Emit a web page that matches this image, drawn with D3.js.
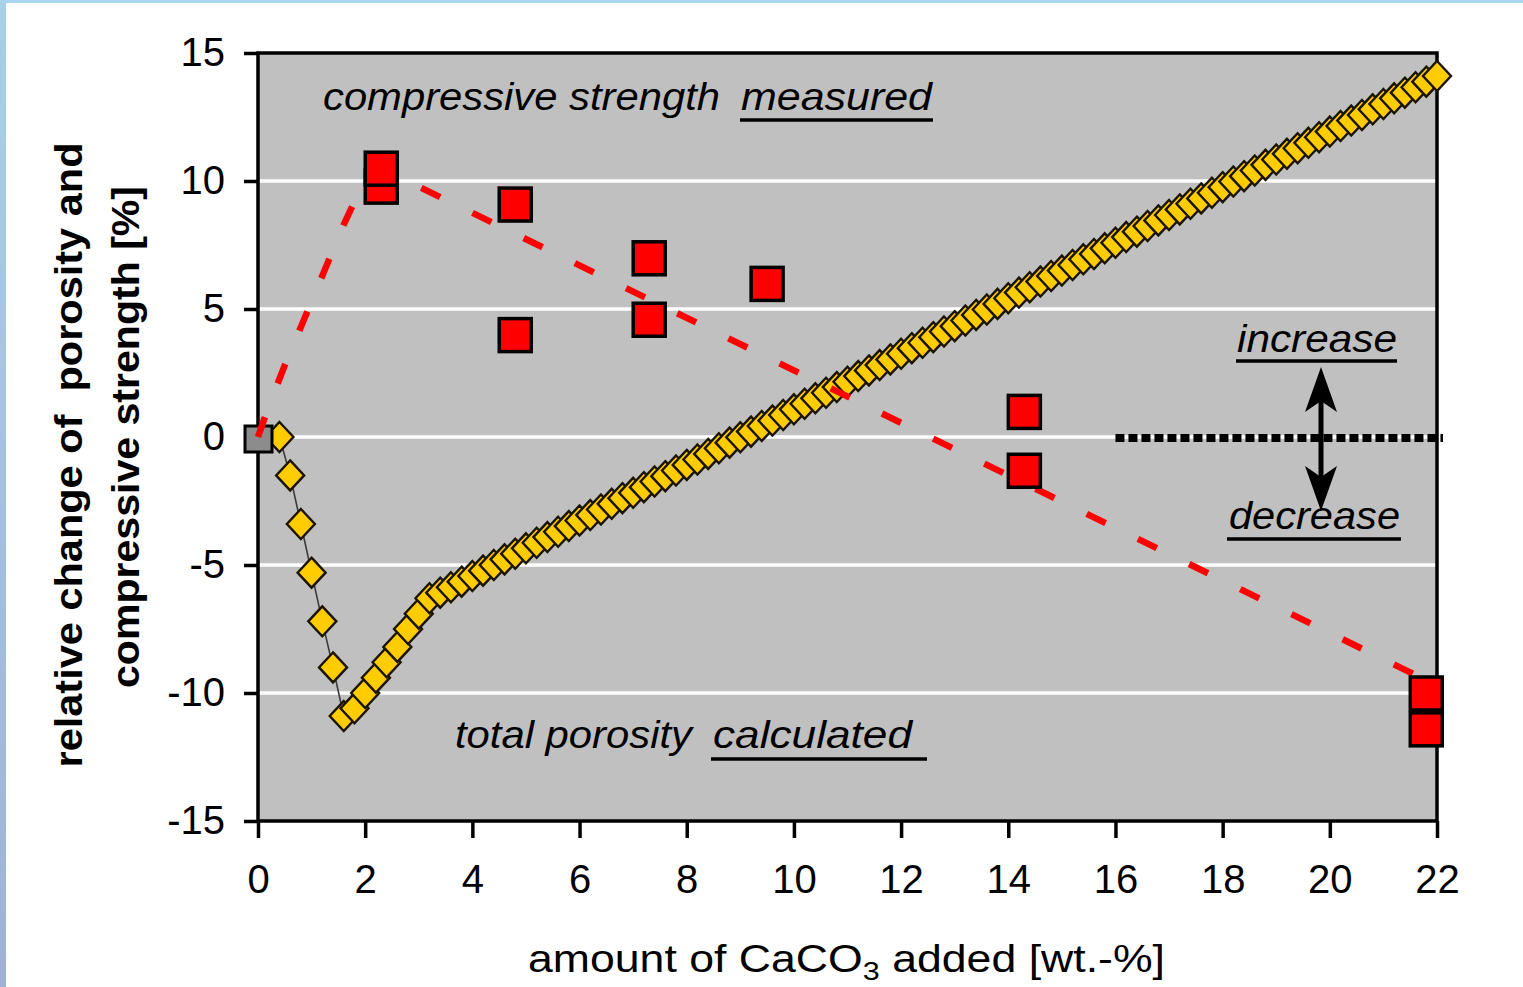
<!DOCTYPE html>
<html>
<head>
<meta charset="utf-8">
<script src="https://cdn.jsdelivr.net/npm/d3@7"></script>
<style>
body{margin:0;background:#fff;}
svg{display:block;}
text{font-family:"Liberation Sans",Arial,sans-serif;fill:#000;}
</style>
</head>
<body>
<svg id="chart" width="1523" height="987"></svg>
<script>
// axis ticks
var xTicks = [0, 2, 4, 6, 8, 10, 12, 14, 16, 18, 20, 22];
var yTicks = [-15, -10, -5, 0, 5, 10, 15];

// compressive strength measured (red squares)
var measuredX = [2.3, 2.3, 4.8, 4.8, 7.3, 7.3, 9.5, 14.3, 14.3, 21.8, 21.8];
var measuredY = [9.8, 10.5, 9.1, 4.0, 7.0, 4.6, 6.0, 1.0, -1.3, -11.4, -10.0];

// reference point at origin (grey square)
var originX = [0];
var originY = [0];

// trend of measured strength (red dashed)
var trendX = [0, 0.2, 0.5, 0.8, 1.1, 1.4, 1.6, 1.8, 2.0, 2.3, 21.8];
var trendY = [0, 1.2, 2.8, 4.3, 5.8, 7.3, 8.3, 9.2, 9.8, 10.5, -9.5];

// total porosity calculated (yellow diamonds)
var porosityX = [0.4, 0.6, 0.8, 1.0, 1.2, 1.4, 1.6, 1.8, 2.0, 2.2, 2.4, 2.6, 2.8, 3.0,
    3.2, 3.4, 3.6, 3.8, 4.0, 4.2, 4.4, 4.6, 4.8, 5.0, 5.2, 5.4, 5.6, 5.8, 6.0,
    6.2, 6.4, 6.6, 6.8, 7.0, 7.2, 7.4, 7.6, 7.8, 8.0, 8.2, 8.4, 8.6, 8.8, 9.0,
    9.2, 9.4, 9.6, 9.8, 10.0, 10.2, 10.4, 10.6, 10.8, 11.0, 11.2, 11.4, 11.6, 11.8, 12.0,
    12.2, 12.4, 12.6, 12.8, 13.0, 13.2, 13.4, 13.6, 13.8, 14.0, 14.2, 14.4, 14.6, 14.8, 15.0,
    15.2, 15.4, 15.6, 15.8, 16.0, 16.2, 16.4, 16.6, 16.8, 17.0, 17.2, 17.4, 17.6, 17.8, 18.0,
    18.2, 18.4, 18.6, 18.8, 19.0, 19.2, 19.4, 19.6, 19.8, 20.0, 20.2, 20.4, 20.6, 20.8, 21.0,
    21.2, 21.4, 21.6, 21.8, 22.0];
var porosityY = [0.0, -1.5, -3.4, -5.3, -7.2, -9.0, -10.9, -10.6, -10.0, -9.4, -8.8, -8.2, -7.5, -6.9,
    -6.30, -6.08, -5.87, -5.65, -5.43, -5.22, -5.00, -4.78, -4.56, -4.35, -4.13, -3.91, -3.70, -3.48, -3.26,
    -3.05, -2.83, -2.61, -2.39, -2.18, -1.96, -1.74, -1.53, -1.31, -1.09, -0.88, -0.66, -0.44, -0.22, -0.01,
    0.21, 0.43, 0.64, 0.86, 1.08, 1.30, 1.51, 1.73, 1.95, 2.16, 2.38, 2.60, 2.81, 3.03, 3.25,
    3.47, 3.68, 3.90, 4.12, 4.33, 4.55, 4.77, 4.98, 5.20, 5.42, 5.64, 5.85, 6.07, 6.29, 6.50,
    6.72, 6.94, 7.15, 7.37, 7.59, 7.81, 8.02, 8.24, 8.46, 8.67, 8.89, 9.11, 9.32, 9.54, 9.76,
    9.98, 10.19, 10.41, 10.63, 10.84, 11.06, 11.28, 11.49, 11.71, 11.93, 12.15, 12.36, 12.58, 12.80, 13.01,
    13.23, 13.45, 13.66, 13.88, 14.10];

var zip = function(xs, ys) {
    return xs.map(function(v, i) { return {x: v, y: ys[i]}; });
};

var svg = d3.select("#chart");

// page frame strips
var grad = svg.append("defs").append("linearGradient")
    .attr("id", "edge").attr("x1", 0).attr("y1", 0).attr("x2", 0).attr("y2", 1);
grad.append("stop").attr("offset", "0%").attr("stop-color", "#a9d0e8");
grad.append("stop").attr("offset", "100%").attr("stop-color", "#9fb2d6");
svg.append("rect").attr("x", 0).attr("y", 0).attr("width", 6).attr("height", 987).attr("fill", "url(#edge)");
svg.append("rect").attr("x", 0).attr("y", 0).attr("width", 1523).attr("height", 3).attr("fill", "#a8d6ee");

var xScale = d3.scaleLinear().domain([0, 22]).range([258, 1437]);
var yScale = d3.scaleLinear().domain([-15, 15]).range([821, 53]);

// plot area
svg.append("rect")
    .attr("x", xScale(0)).attr("y", yScale(15))
    .attr("width", xScale(22) - xScale(0))
    .attr("height", yScale(-15) - yScale(15))
    .attr("fill", "#c0c0c0");

// grid lines
svg.append("g").selectAll("line")
    .data(yTicks.filter(function(d) { return d > -15 && d < 15; }))
    .enter().append("line")
    .attr("x1", xScale(0)).attr("x2", xScale(22))
    .attr("y1", function(d) { return yScale(d); })
    .attr("y2", function(d) { return yScale(d); })
    .attr("stroke", "#fff").attr("stroke-width", 3.5);

svg.append("rect")
    .attr("x", xScale(0)).attr("y", yScale(15))
    .attr("width", xScale(22) - xScale(0))
    .attr("height", yScale(-15) - yScale(15))
    .attr("fill", "none").attr("stroke", "#000").attr("stroke-width", 3.5);

// axes
var yAxis = svg.append("g")
    .attr("transform", "translate(" + xScale(0) + ",0)")
    .call(d3.axisLeft(yScale).tickValues(yTicks).tickSize(14).tickPadding(19)
        .tickFormat(function(d) { return d < 0 ? "-" + Math.abs(d) : d; }));
var xAxis = svg.append("g")
    .attr("transform", "translate(0," + yScale(-15) + ")")
    .call(d3.axisBottom(xScale).tickValues(xTicks).tickSize(17).tickPadding(27));
[xAxis, yAxis].forEach(function(ax) {
    ax.select(".domain").remove();
    ax.selectAll(".tick line").attr("stroke", "#000").attr("stroke-width", 3.5);
    ax.selectAll(".tick text").attr("font-size", 40).attr("fill", "#000")
        .style("font-family", "'Liberation Sans', Arial, sans-serif");
});

// porosity line + diamonds
var porosity = zip(porosityX, porosityY);
svg.append("path")
    .datum(porosity)
    .attr("d", d3.line().x(function(d) { return xScale(d.x); }).y(function(d) { return yScale(d.y); }))
    .attr("fill", "none").attr("stroke", "#3a3a3a").attr("stroke-width", 1.6);
svg.append("g").selectAll("path")
    .data(porosity)
    .enter().append("path")
    .attr("d", "M0,-15L14,0L0,15L-14,0Z")
    .attr("transform", function(d) { return "translate(" + xScale(d.x) + "," + yScale(d.y) + ")"; })
    .attr("fill", "#ffcc00").attr("stroke", "#1a1400").attr("stroke-width", 2.4);

// grey origin square
svg.append("g").selectAll("rect")
    .data(zip(originX, originY))
    .enter().append("rect")
    .attr("x", function(d) { return xScale(d.x) - 13; })
    .attr("y", function(d) { return yScale(d.y) - 11; })
    .attr("width", 27).attr("height", 26)
    .attr("fill", "#8c8c8c").attr("stroke", "#000").attr("stroke-width", 3);

// trend line
svg.append("path")
    .datum(zip(trendX, trendY))
    .attr("d", d3.line().x(function(d) { return xScale(d.x); }).y(function(d) { return yScale(d.y); }))
    .attr("fill", "none").attr("stroke", "#ff0000").attr("stroke-width", 6.5)
    .attr("stroke-dasharray", "21,36");

// measured squares
svg.append("g").selectAll("rect")
    .data(zip(measuredX, measuredY))
    .enter().append("rect")
    .attr("x", function(d) { return xScale(d.x) - 16; })
    .attr("y", function(d) { return yScale(d.y) - 16; })
    .attr("width", 32).attr("height", 33)
    .attr("fill", "#ff0000").attr("stroke", "#000").attr("stroke-width", 3.5);

// increase / decrease marker
svg.append("line")
    .attr("x1", xScale(16)).attr("x2", 1443)
    .attr("y1", yScale(0) + 1).attr("y2", yScale(0) + 1)
    .attr("stroke", "#000").attr("stroke-width", 8).attr("stroke-dasharray", "9,4");
svg.append("line")
    .attr("x1", 1321).attr("x2", 1321).attr("y1", 395).attr("y2", 485)
    .attr("stroke", "#000").attr("stroke-width", 5);
svg.append("path").attr("d", "M1321,367L1337,412L1321,401L1305,412Z").attr("fill", "#000");
svg.append("path").attr("d", "M1321,511L1337,466L1321,477L1305,466Z").attr("fill", "#000");

// annotations
var note = function(str, x, y, len, italic) {
    return svg.append("text")
        .attr("x", x).attr("y", y)
        .attr("font-size", 38)
        .attr("font-style", italic ? "italic" : "normal")
        .attr("textLength", len).attr("lengthAdjust", "spacingAndGlyphs")
        .text(str);
};
var underline = function(x1, x2, y) {
    svg.append("line").attr("x1", x1).attr("x2", x2).attr("y1", y).attr("y2", y)
        .attr("stroke", "#000").attr("stroke-width", 3.5);
};

note("compressive strength", 323, 110, 397, true);
note("measured", 741, 110, 191, true);
underline(740, 933, 120);
note("total porosity", 455, 748, 237, true);
note("calculated", 713, 748, 199, true);
underline(711, 927, 759);
note("increase", 1237, 352, 160, true);
underline(1236, 1397, 361);
note("decrease", 1229, 529, 171, true);
underline(1227, 1401, 539);

// x axis title
var xt = svg.append("text")
    .attr("x", 528).attr("y", 972)
    .attr("font-size", 38)
    .attr("textLength", 637).attr("lengthAdjust", "spacingAndGlyphs");
xt.append("tspan").text("amount of CaCO");
xt.append("tspan").attr("font-size", 26).attr("dy", 8).text("3");
xt.append("tspan").attr("dy", -8).text(" added [wt.-%]");

// y axis title
svg.append("text")
    .attr("transform", "translate(82,455) rotate(-90)")
    .attr("text-anchor", "middle")
    .attr("font-size", 38).attr("font-weight", "bold")
    .attr("textLength", 625).attr("lengthAdjust", "spacingAndGlyphs")
    .style("white-space", "pre")
    .text("relative change of  porosity and");
svg.append("text")
    .attr("transform", "translate(139,437) rotate(-90)")
    .attr("text-anchor", "middle")
    .attr("font-size", 38).attr("font-weight", "bold")
    .attr("textLength", 502).attr("lengthAdjust", "spacingAndGlyphs")
    .text("compressive strength [%]");
</script>
</body>
</html>
